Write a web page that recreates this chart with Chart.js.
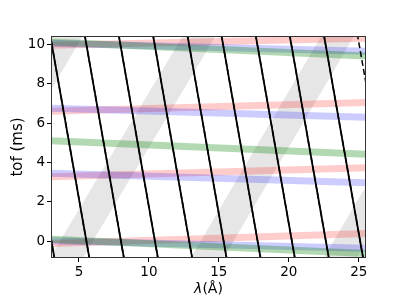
<!DOCTYPE html>
<html>
<head>
<meta charset="utf-8">
<script src="https://cdn.jsdelivr.net/npm/chart.js@4.4.1/dist/chart.umd.min.js"></script>
<style>
  html, body { margin: 0; padding: 0; background: #fff; }
  #wrap { width: 407px; height: 305px; }
</style>
</head>
<body>
<div id="wrap"><canvas id="tofChart" width="407" height="305"></canvas></div>
<script>
// axes
var xRange = [3, 25.52];
var yRange = [-0.85, 10.42];
var xTicks = [5, 10, 15, 20, 25];
var yTicks = [0, 2, 4, 6, 8, 10];

// coloured lines: tof at left end and right end of the plot
var redStart = [-0.12, 3.28, 6.6, 9.95];
var redEnd = [0.4, 3.73, 7.05, 10.3];
var blueStart = [0.03, 3.45, 6.75, 10.05];
var blueEnd = [-0.36, 2.97, 6.3, 9.65];
var greenStart = [0.1, 5.1, 10.12];
var greenEnd = [-0.62, 4.42, 9.4];

// black lines: lambda where each one crosses tof = 11 and tof = -1
var blackTof = [11, -1];
var blackTop = [0.31, 2.81, 5.28, 7.71, 10.16, 12.62, 15.05, 17.5, 19.93, 22.38];
var blackBottom = [3.28, 5.78, 8.25, 10.68, 13.13, 15.59, 18.02, 20.47, 22.9, 25.35];
var dashTop = [0.31, 2.81, 5.28, 7.71, 10.16, 12.62, 15.05, 17.5, 19.93, 22.38, 24.78];
var dashBottom = [3.28, 5.78, 8.25, 10.68, 13.13, 15.59, 18.02, 20.47, 22.9, 25.35, 27.75];

// grey bands: lambda of left/right edge at tof = -2 and tof = 12
var bandTof = [-2, 12];
var bandLeftBottom = [-7.36, 1.95, 12.04, 21.54];
var bandRightBottom = [-5.01, 4.3, 14.39, 23.89];
var bandLeftTop = [4.23, 13.75, 23.63, 33.13];
var bandRightTop = [6.58, 16.1, 25.98, 35.48];

var datasets = [];

function addBlack(tops, bottoms, dash, width) {
    for (let i = 0; i < tops.length; i++) {
        datasets.push({
            data: [{x: tops[i], y: blackTof[0]}, {x: bottoms[i], y: blackTof[1]}],
            borderColor: '#000',
            borderWidth: width,
            borderDash: dash,
            order: 0
        });
    }
}

function addColour(starts, ends, colour) {
    for (let i = 0; i < starts.length; i++) {
        datasets.push({
            data: [{x: xRange[0], y: starts[i]}, {x: xRange[1], y: ends[i]}],
            borderColor: colour,
            borderWidth: 7,
            order: 1
        });
    }
}

addBlack(blackTop, blackBottom, [], 1.8);
addBlack(dashTop, dashBottom, [6, 3], 1.5);
addColour(greenStart, greenEnd, 'rgba(0, 128, 0, 0.3)');
addColour(blueStart, blueEnd, 'rgba(0, 0, 255, 0.2)');
addColour(redStart, redEnd, 'rgba(255, 0, 0, 0.2)');

for (let i = 0; i < bandLeftBottom.length; i++) {
    datasets.push({
        data: [
            {x: bandLeftBottom[i], y: bandTof[0]},
            {x: bandLeftTop[i], y: bandTof[1]},
            {x: bandRightTop[i], y: bandTof[1]},
            {x: bandRightBottom[i], y: bandTof[0]},
            {x: bandLeftBottom[i], y: bandTof[0]}
        ],
        borderColor: 'rgba(0,0,0,0)',
        borderWidth: 1,
        backgroundColor: 'rgba(128, 128, 128, 0.2)',
        fill: 'shape',
        order: 2
    });
}

// box round the plot and the x label (italic lambda like mathtext)
var framePlugin = {
    id: 'frame',
    afterDatasetsDraw(chart) {
        let a = chart.chartArea, ctx = chart.ctx;
        ctx.save();
        ctx.strokeStyle = '#333';
        ctx.lineWidth = 1;
        ctx.strokeRect(a.left + 0.5, a.top + 0.5, a.right - a.left - 1, a.bottom - a.top - 1);
        ctx.restore();
    },
    afterDraw(chart) {
        let a = chart.chartArea, ctx = chart.ctx;
        let sym = 'λ', unit = '(Å)';
        ctx.save();
        ctx.fillStyle = '#000';
        ctx.textBaseline = 'middle';
        ctx.font = 'italic 14px "DejaVu Sans"';
        let w1 = ctx.measureText(sym).width;
        ctx.font = '14px "DejaVu Sans"';
        let w2 = ctx.measureText(unit).width;
        let x0 = (a.left + a.right) / 2 - (w1 + w2) / 2;
        let y0 = 289;
        ctx.font = 'italic 14px "DejaVu Sans"';
        ctx.fillText(sym, x0, y0);
        ctx.font = '14px "DejaVu Sans"';
        ctx.fillText(unit, x0 + w1, y0);
        ctx.restore();
    }
};

Chart.defaults.font.family = 'DejaVu Sans';
Chart.defaults.color = '#000';

var ctx = document.getElementById('tofChart');
var tofChart = new Chart(ctx, {
    type: 'line',
    data: { datasets: datasets },
    options: {
        responsive: false,
        animation: false,
        clip: 0,
        elements: { point: { radius: 0 }, line: { tension: 0 } },
        layout: { padding: { top: 36, right: 41, left: 0, bottom: 0 } },
        plugins: { legend: { display: false }, tooltip: { enabled: false } },
        scales: {
            x: {
                type: 'linear',
                min: xRange[0],
                max: xRange[1],
                afterBuildTicks: function (axis) { axis.ticks = xTicks.map(v => ({value: v})); },
                afterFit: function (axis) { axis.height = 47; },
                grid: { drawOnChartArea: false, drawTicks: true, tickLength: 4, color: '#000' },
                border: { display: false },
                ticks: { font: { size: 13.5 }, padding: 2, maxRotation: 0 },
                title: { display: false }
            },
            y: {
                type: 'linear',
                min: yRange[0],
                max: yRange[1],
                afterBuildTicks: function (axis) { axis.ticks = yTicks.map(v => ({value: v})); },
                afterFit: function (axis) { axis.width = 51; },
                grid: { drawOnChartArea: false, drawTicks: true, tickLength: 4, color: '#000' },
                border: { display: false },
                ticks: { font: { size: 13.5 }, padding: 2 },
                title: { display: true, text: 'tof (ms)', font: { size: 15 }, padding: { top: 9, bottom: 0 } }
            }
        }
    },
    plugins: [framePlugin]
});
</script>
</body>
</html>
